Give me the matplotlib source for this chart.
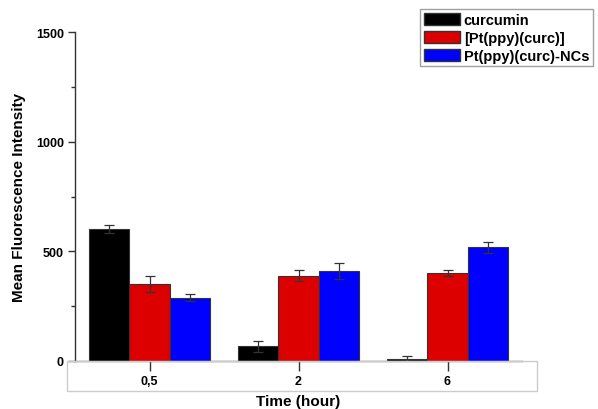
import numpy as np
import matplotlib.pyplot as plt
from matplotlib.patches import Rectangle, Patch

plt.rcParams['font.family'] = ['Liberation Sans', 'DejaVu Sans']
plt.rcParams['font.weight'] = 'bold'

# data
times = ['0,5', '2', '6']
series = ['curcumin', '[Pt(ppy)(curc)]', 'Pt(ppy)(curc)-NCs']
curcumin = [600, 68, 10]
curcumin_err = [18, 25, 12]
pt_curc = [351, 388, 401]
pt_curc_err = [35, 25, 15]
pt_ncs = [289, 411, 518]
pt_ncs_err = [15, 35, 25]
colors = ['#000000', '#DD0000', '#0000FF']

fig = plt.figure(figsize=(5.98, 4.10), dpi=100)
ax = fig.add_axes([75 / 598, 48 / 410, 447 / 598, 329 / 410])

x = np.arange(len(times))
w = 0.27
vals = [curcumin, pt_curc, pt_ncs]
errs = [curcumin_err, pt_curc_err, pt_ncs_err]
for i, (v, e, c) in enumerate(zip(vals, errs, colors)):
    ax.bar(x + (i - 1) * w, v, w, color=c, edgecolor='#333333', linewidth=0.8,
           yerr=e, capsize=3.5, error_kw=dict(ecolor='#333333', elinewidth=0.9, capthick=0.9),
           zorder=2)

ax.set_xlim(-0.5, 2.5)
ax.set_ylim(0, 1500)
ax.set_xticks(x)
ax.set_xticklabels(times, fontsize=9, fontweight='bold')
ax.set_yticks([0, 500, 1000, 1500])
ax.set_yticks([250, 750, 1250], minor=True)
ax.tick_params(axis='y', which='major', direction='out', length=5, width=1, labelsize=9, pad=3, color='#333333')
ax.tick_params(axis='y', which='minor', direction='out', length=3, width=1, color='#333333')
ax.tick_params(axis='x', which='major', direction='out', length=7, width=1, labelsize=9, pad=3, color='#333333')

for s in ['top', 'right']:
    ax.spines[s].set_visible(False)
ax.spines['left'].set_color('#333333')
ax.spines['bottom'].set_color('#666666')
ax.spines['left'].set_linewidth(1)
ax.spines['bottom'].set_linewidth(1)

ax.set_ylabel('Mean Fluorescence Intensity', fontsize=11, fontweight='bold', labelpad=7)
# x label sits at the very bottom edge, as in the source
fig.text(298 / 598, 1 / 410, 'Time (hour)', ha='center', va='bottom',
         fontsize=11, fontweight='bold')

# light frame under the axis around the tick labels
fig.patches.append(Rectangle((67 / 598, 18 / 410), 470 / 598, 30 / 410,
                             transform=fig.transFigure, fill=False,
                             edgecolor='#cccccc', linewidth=1, zorder=0))

handles = [Patch(facecolor=c, edgecolor='#333333') for c in colors]
leg = fig.legend(handles, series, loc='upper right', bbox_to_anchor=(593 / 598, 1 - 10 / 410),
                 prop={'weight': 'bold', 'size': 10.5}, frameon=True, fancybox=False,
                 handlelength=2.5, handleheight=0.95, handletextpad=0.25, labelspacing=0.25,
                 borderpad=0.25, borderaxespad=0)
leg.get_frame().set_edgecolor('#888888')
leg.get_frame().set_linewidth(1)

fig.savefig('out.png', dpi=100)
